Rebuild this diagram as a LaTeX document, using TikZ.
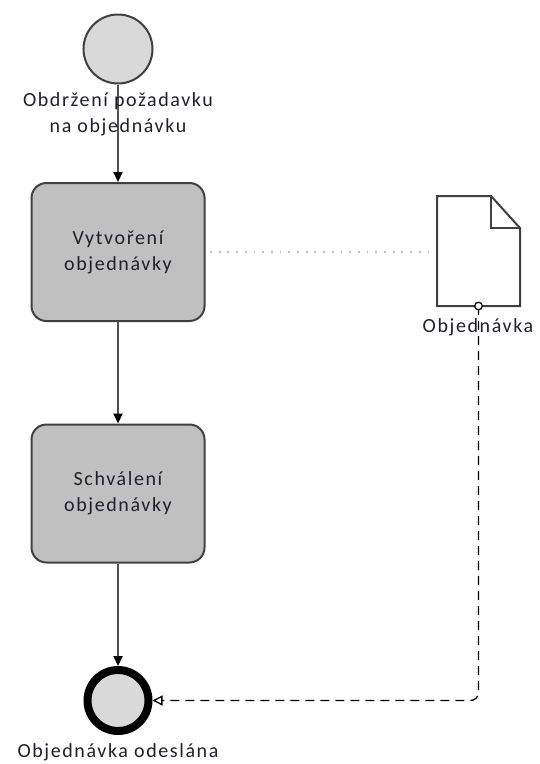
\documentclass[tikz,border=0pt]{standalone}
\usepackage{fontspec}
\setmainfont{Carlito}[LetterSpace=8]
\usetikzlibrary{arrows.meta}
\definecolor{taskfill}{HTML}{C0C0C0}
\definecolor{eventfill}{HTML}{D9D9D9}
\definecolor{edge}{HTML}{404040}
\definecolor{flowline}{HTML}{505050}
\definecolor{txt}{HTML}{1F1F2F}
\tikzset{
  lbl/.style={font=\fontsize{20}{26}\selectfont, text=txt, align=center, inner sep=0pt},
  task/.style={draw=edge, line width=2pt, fill=taskfill, rounded corners=15pt,
    minimum width=173pt, minimum height=138pt, lbl},
  flow/.style={draw=flowline, line width=2.2pt,
    -{Triangle[length=10pt,width=9pt,color=black]}},
  assoc/.style={draw=black, line width=1.3pt, dash pattern=on 9pt off 6pt,
    rounded corners=8pt, -{Triangle[open,length=10pt,width=10pt,fill=white]}},
}
\begin{document}
\begin{tikzpicture}[x=1pt,y=-1pt]
  \useasboundingbox (0,0) rectangle (540,764);

  % start event
  \node[circle, draw=edge, line width=2pt, fill=eventfill, minimum size=69pt, inner sep=0pt] (start) at (118,49) {};
  % tasks
  \node[task] (t1) at (118,252) {Vytvoření\\objednávky};
  \node[task] (t2) at (118,493.5) {Schválení\\objednávky};
  % end event
  \node[circle, draw=black, line width=8pt, fill=eventfill, minimum size=61pt, inner sep=0pt] (end) at (118,700.5) {};

  % sequence flows
  \draw[flow] (start) -- (t1);
  \draw[flow] (t1) -- (t2);
  \draw[flow] (t2) -- (end);

  % event labels (the start label sits over its flow line)
  \node[lbl] (startlbl) at (118,114) {Obdržení požadavku\\na objednávku};
  \node[lbl] (endlbl) at (118,752) {Objednávka odeslána};

  % data object with folded corner
  \draw[draw=edge, line width=2pt, fill=white]
    (437,196) -- (491,196) -- (520,228) -- (520,306) -- (437,306) -- cycle;
  \draw[draw=edge, line width=2pt] (491,196) -- (491,228) -- (520,228);
  \node[inner sep=0pt, minimum width=83pt, minimum height=110pt] (doc) at (478.5,251) {};
  \coordinate (docbot) at (478.5,306);
  \coordinate (dotstart) at (210,252);
  \coordinate (dotend) at (432,252);

  % association between task and data object
  \draw[draw=gray!50, line width=1.6pt, dash pattern=on 1.8pt off 6.9pt] (dotstart) -- (dotend);

  % data association to the end event
  \coordinate (corner) at (478.5,700.5);
  \draw[assoc] (docbot) -- (corner) -- (end.east);
  \draw[draw=black, line width=1.3pt, fill=white] (docbot) circle (3.8pt);

  \node[lbl] (doclbl) at (478,327) {Objednávka};
\end{tikzpicture}
\end{document}
